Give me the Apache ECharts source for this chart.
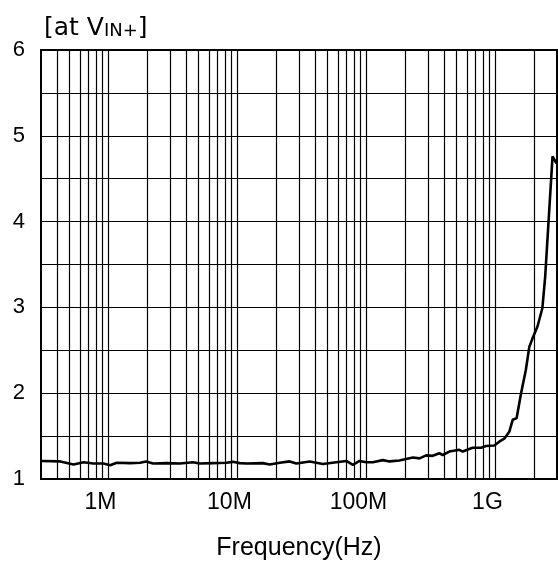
<!DOCTYPE html>
<html>
<head>
<meta charset="utf-8">
<script src="https://cdn.jsdelivr.net/npm/echarts@6/dist/echarts.min.js"></script>
<style>
  html, body { margin: 0; padding: 0; background: #fff; }
  #container { width: 558px; height: 568px; }
</style>
</head>
<body>
<div id="container"></div>
<script>
// frequency (Hz) and value
var freq = [300e3, 423e3, 536e3, 641e3, 766e3, 915e3, 1.03e6, 1.16e6, 1.47e6, 1.76e6,
  1.96e6, 2.22e6, 2.83e6, 3.59e6, 4.52e6, 5.12e6, 6.45e6, 8.24e6, 9.21e6, 10.4e6,
  11.8e6, 15.7e6, 17.8e6, 21.3e6, 25.4e6, 28.6e6, 36.3e6, 46.0e6, 58.4e6, 69.8e6,
  78.5e6, 88.4e6, 99.6e6, 112e6, 134e6, 151e6, 180e6, 229e6, 258e6, 290e6,
  326e6, 368e6, 390e6, 439e6, 525e6, 557e6, 665e6, 773e6, 845e6, 979e6,
  1.07e9, 1.17e9, 1.28e9, 1.36e9, 1.46e9, 1.58e9, 1.72e9, 1.83e9, 1.94e9, 2.12e9,
  2.31e9, 2.43e9, 2.77e9, 2.97e9];
var vin = [1.21, 1.205, 1.17, 1.195, 1.18, 1.18, 1.16, 1.19, 1.185, 1.19,
  1.205, 1.18, 1.185, 1.18, 1.195, 1.18, 1.185, 1.19, 1.2, 1.185,
  1.18, 1.185, 1.17, 1.19, 1.205, 1.18, 1.205, 1.175, 1.195, 1.21,
  1.165, 1.21, 1.195, 1.195, 1.22, 1.205, 1.215, 1.25, 1.24, 1.275,
  1.27, 1.30, 1.28, 1.32, 1.34, 1.32, 1.365, 1.365, 1.385, 1.39,
  1.435, 1.47, 1.55, 1.69, 1.71, 2.0, 2.27, 2.54, 2.64, 2.78,
  2.99, 3.36, 4.76, 4.68];

var tickValues = [1e6, 1e7, 1e8, 1e9];
var tickLabels = ['1M', '10M', '100M', '1G'];

// vertical grid lines (log grid 2..9 per decade + decades)
var gridFreq = [];
[1e5, 1e6, 1e7, 1e8, 1e9].forEach(function (d) {
  for (var k = 1; k <= 9; k++) {
    var f = d * k;
    if (f > 300e3 && f < 3e9) gridFreq.push(f);
  }
});

var font = "'Liberation Sans', Arial, sans-serif";
var titleFont = "'DejaVu Sans', sans-serif";

var myChart = echarts.init(document.getElementById('container'));
var option = {
  animation: false,
  backgroundColor: '#fff',
  title: {
    text: '{m|[at V}{s|IN+}{m|]}',
    left: 39,
    top: 11,
    textStyle: {
      fontWeight: 'normal',
      rich: {
        m: { fontFamily: titleFont, fontSize: 25, fontWeight: 'normal', color: '#000', verticalAlign: 'bottom' },
        s: { fontFamily: titleFont, fontSize: 18, fontWeight: 'normal', color: '#000', verticalAlign: 'bottom', padding: [0, 0, 1, 0] }
      }
    }
  },
  grid: {
    left: 41, top: 50, right: 1, bottom: 89,
    show: true, borderColor: '#000', borderWidth: 2
  },
  xAxis: {
    type: 'log',
    logBase: 10,
    min: 3e5,
    max: 3e9,
    name: 'Frequency(Hz)',
    nameLocation: 'middle',
    nameGap: 57,
    nameTextStyle: { fontFamily: font, fontSize: 25, color: '#000' },
    axisLine: { show: false },
    axisTick: { show: false },
    splitLine: { show: false },
    axisLabel: {
      fontFamily: font, fontSize: 23, color: '#000', margin: 12,
      padding: [0, 16, 0, 0],
      showMinLabel: false, showMaxLabel: false,
      formatter: function (v) {
        for (var i = 0; i < tickValues.length; i++) {
          if (Math.abs(v / tickValues[i] - 1) < 1e-6) return tickLabels[i];
        }
        return '';
      }
    }
  },
  yAxis: {
    type: 'value',
    min: 1,
    max: 6,
    interval: 0.5,
    axisLine: { show: false },
    axisTick: { show: false },
    splitLine: { show: true, lineStyle: { color: '#000', width: 1 } },
    axisLabel: {
      fontFamily: font, fontSize: 22, color: '#000', margin: 16,
      formatter: function (v) { return Math.abs(v - Math.round(v)) < 1e-9 ? String(Math.round(v)) : ''; }
    }
  },
  series: [{
    type: 'line',
    data: freq.map(function (f, i) { return [f, vin[i]]; }),
    showSymbol: false,
    symbol: 'none',
    lineStyle: { color: '#000', width: 2.6 },
    z: 5,
    markLine: {
      silent: true,
      symbol: ['none', 'none'],
      label: { show: false },
      lineStyle: { color: '#000', width: 1.2, type: 'solid' },
      data: gridFreq.map(function (f) { return { xAxis: f }; })
    }
  }]
};
myChart.setOption(option);
</script>
</body>
</html>
